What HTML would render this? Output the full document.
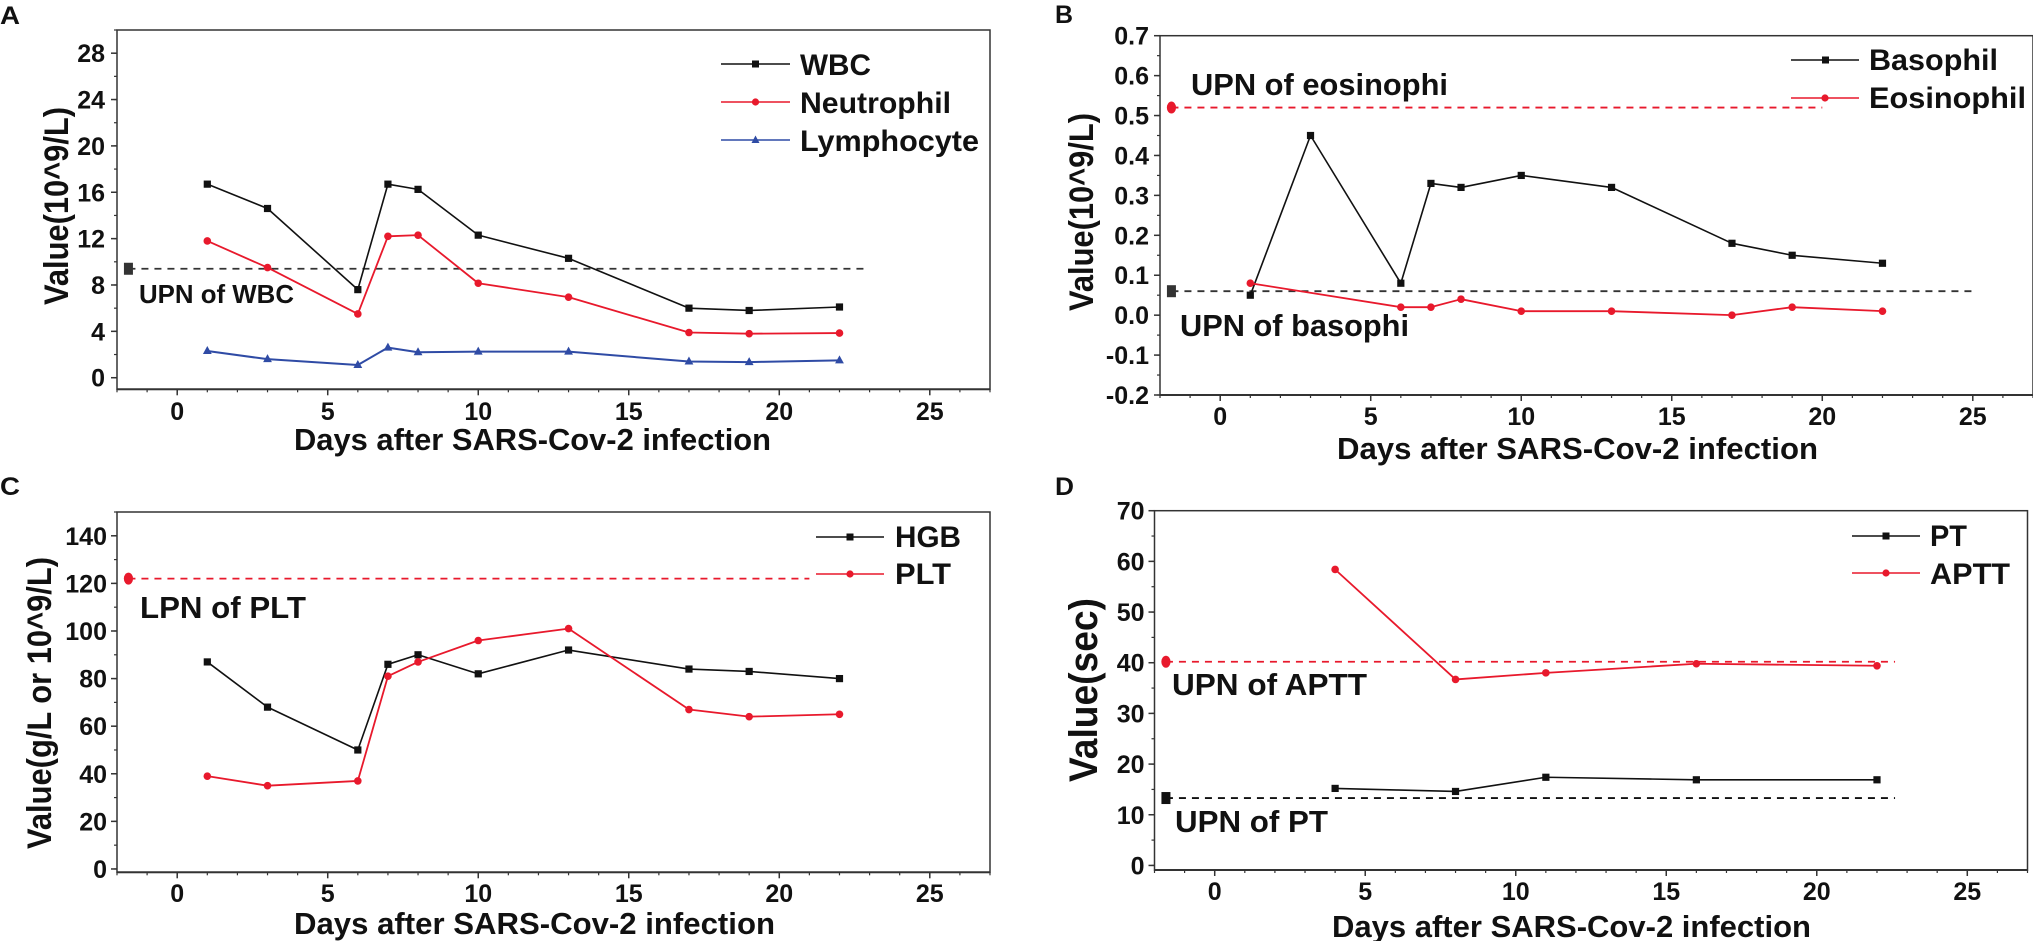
<!DOCTYPE html>
<html lang="en">
<head>
<meta charset="utf-8">
<title>Laboratory values after SARS-Cov-2 infection</title>
<style>
html,body{margin:0;padding:0;background:#fff;}
svg{display:block;filter:blur(0.35px);}
text{font-family:"Liberation Sans",Arial,sans-serif;font-weight:bold;fill:#111;}
.tick{font-size:25px;}
.xtitle{font-size:31px;}
.note{font-size:31px;}
.legend{font-size:30px;}
.letter{font-size:25px;}
</style>
</head>
<body>
<svg id="chart" width="2033" height="941" viewBox="0 0 2033 941" xmlns="http://www.w3.org/2000/svg">
  <rect x="0" y="0" width="2033" height="941" fill="#fff"/>

  <g id="panel-a">
    <text class="letter" x="0" y="24" textLength="20" lengthAdjust="spacingAndGlyphs">A</text>
    <text class="xtitle" x="294" y="450" textLength="477" lengthAdjust="spacingAndGlyphs">Days after SARS-Cov-2 infection</text>
    <text style="font-size:34px" transform="translate(68,305) rotate(-90)" textLength="198" lengthAdjust="spacingAndGlyphs">Value(10^9/L)</text>
    <text class="note" style="font-size:26px" x="139" y="303" textLength="155" lengthAdjust="spacingAndGlyphs">UPN of WBC</text>
    <g>
      <line x1="721" x2="790" y1="64" y2="64" stroke="#111" stroke-width="1.6"/>
      <rect x="752" y="60.5" width="7" height="7" fill="#111"/>
      <text class="legend" x="800" y="75" textLength="71" lengthAdjust="spacingAndGlyphs">WBC</text>
      <line x1="721" x2="790" y1="102" y2="102" stroke="#e8192c" stroke-width="1.6"/>
      <circle cx="755.5" cy="102" r="3.6" fill="#e8192c"/>
      <text class="legend" x="800" y="113" textLength="151" lengthAdjust="spacingAndGlyphs">Neutrophil</text>
      <line x1="721" x2="790" y1="140" y2="140" stroke="#2f4ba5" stroke-width="1.6"/>
      <polygon points="755.5,135.5 759.5,143 751.5,143" fill="#2f4ba5"/>
      <text class="legend" x="800" y="151" textLength="179" lengthAdjust="spacingAndGlyphs">Lymphocyte</text>
    </g>
  </g>

  <g id="panel-b">
    <text class="letter" x="1055" y="23" textLength="18" lengthAdjust="spacingAndGlyphs">B</text>
    <text class="xtitle" x="1337" y="459" textLength="481" lengthAdjust="spacingAndGlyphs">Days after SARS-Cov-2 infection</text>
    <text style="font-size:34px" transform="translate(1093,311) rotate(-90)" textLength="198" lengthAdjust="spacingAndGlyphs">Value(10^9/L)</text>
    <text class="note" x="1191" y="95" textLength="257" lengthAdjust="spacingAndGlyphs">UPN of eosinophi</text>
    <text class="note" x="1180" y="336" textLength="229" lengthAdjust="spacingAndGlyphs">UPN of basophi</text>
    <g>
      <line x1="1791" x2="1859" y1="60" y2="60" stroke="#111" stroke-width="1.6"/>
      <rect x="1822" y="56.5" width="7" height="7" fill="#111"/>
      <text class="legend" x="1869" y="70" textLength="129" lengthAdjust="spacingAndGlyphs">Basophil</text>
      <line x1="1791" x2="1859" y1="98" y2="98" stroke="#e8192c" stroke-width="1.6"/>
      <circle cx="1825" cy="98" r="3.6" fill="#e8192c"/>
      <text class="legend" x="1869" y="108" textLength="157" lengthAdjust="spacingAndGlyphs">Eosinophil</text>
    </g>
  </g>

  <g id="panel-c">
    <text class="letter" x="0" y="495" textLength="20" lengthAdjust="spacingAndGlyphs">C</text>
    <text class="xtitle" x="294" y="934" textLength="481" lengthAdjust="spacingAndGlyphs">Days after SARS-Cov-2 infection</text>
    <text style="font-size:34px" transform="translate(51,849) rotate(-90)" textLength="292" lengthAdjust="spacingAndGlyphs">Value(g/L or 10^9/L)</text>
    <text class="note" x="140" y="618" textLength="166" lengthAdjust="spacingAndGlyphs">LPN of PLT</text>
    <g>
      <line x1="816" x2="884" y1="537" y2="537" stroke="#111" stroke-width="1.6"/>
      <rect x="846.5" y="533.5" width="7" height="7" fill="#111"/>
      <text class="legend" x="895" y="547" textLength="66" lengthAdjust="spacingAndGlyphs">HGB</text>
      <line x1="816" x2="884" y1="574" y2="574" stroke="#e8192c" stroke-width="1.6"/>
      <circle cx="850" cy="574" r="3.6" fill="#e8192c"/>
      <text class="legend" x="895" y="584" textLength="56" lengthAdjust="spacingAndGlyphs">PLT</text>
    </g>
  </g>

  <g id="panel-d">
    <text class="letter" x="1055" y="495" textLength="19" lengthAdjust="spacingAndGlyphs">D</text>
    <text class="xtitle" x="1332" y="937" textLength="479" lengthAdjust="spacingAndGlyphs">Days after SARS-Cov-2 infection</text>
    <text style="font-size:40px" transform="translate(1097,782) rotate(-90)" textLength="184" lengthAdjust="spacingAndGlyphs">Value(sec)</text>
    <text class="note" x="1172" y="695" textLength="195" lengthAdjust="spacingAndGlyphs">UPN of APTT</text>
    <text class="note" x="1175" y="832" textLength="153" lengthAdjust="spacingAndGlyphs">UPN of PT</text>
    <g>
      <line x1="1852" x2="1920" y1="536" y2="536" stroke="#111" stroke-width="1.6"/>
      <rect x="1882.5" y="532.5" width="7" height="7" fill="#111"/>
      <text class="legend" x="1930" y="546" textLength="37" lengthAdjust="spacingAndGlyphs">PT</text>
      <line x1="1852" x2="1920" y1="573" y2="573" stroke="#e8192c" stroke-width="1.6"/>
      <circle cx="1886" cy="573" r="3.6" fill="#e8192c"/>
      <text class="legend" x="1930" y="584" textLength="80" lengthAdjust="spacingAndGlyphs">APTT</text>
    </g>
  </g>
</svg>

<script>
// ---------- shared x axis ----------
var xTickValues = [0, 5, 10, 15, 20, 25];
var xTickLabels = ['0', '5', '10', '15', '20', '25'];

// ---------- panel A ----------
var aDays = [1, 3, 6, 7, 8, 10, 13, 17, 19, 22];
var aWbc = [16.7, 14.6, 7.6, 16.7, 16.25, 12.3, 10.3, 6.0, 5.8, 6.1];
var aNeutrophil = [11.8, 9.5, 5.5, 12.2, 12.3, 8.15, 6.95, 3.9, 3.8, 3.85];
var aLymphocyte = [2.3, 1.6, 1.1, 2.6, 2.2, 2.25, 2.25, 1.4, 1.35, 1.5];
var aWbcLimit = [9.4];
var aWbcLimitEnd = [22.9];
var aYTickValues = [0, 4, 8, 12, 16, 20, 24, 28];
var aYTickLabels = ['0', '4', '8', '12', '16', '20', '24', '28'];

// ---------- panel B ----------
var bDaysBasophil = [1, 3, 6, 7, 8, 10, 13, 17, 19, 22];
var bBasophil = [0.05, 0.45, 0.08, 0.33, 0.32, 0.35, 0.32, 0.18, 0.15, 0.13];
var bDaysEosinophil = [1, 6, 7, 8, 10, 13, 17, 19, 22];
var bEosinophil = [0.08, 0.02, 0.02, 0.04, 0.01, 0.01, 0.0, 0.02, 0.01];
var bBasophilLimit = [0.06];
var bBasophilLimitEnd = [25];
var bEosinophilLimit = [0.52];
var bEosinophilLimitEnd = [20];
var bYTickValues = [-0.2, -0.1, 0, 0.1, 0.2, 0.3, 0.4, 0.5, 0.6, 0.7];
var bYTickLabels = ['-0.2', '-0.1', '0.0', '0.1', '0.2', '0.3', '0.4', '0.5', '0.6', '0.7'];

// ---------- panel C ----------
var cDays = [1, 3, 6, 7, 8, 10, 13, 17, 19, 22];
var cHgb = [87, 68, 50, 86, 90, 82, 92, 84, 83, 80];
var cPlt = [39, 35, 37, 81, 87, 96, 101, 67, 64, 65];
var cPltLimit = [122];
var cPltLimitEnd = [21];
var cYTickValues = [0, 20, 40, 60, 80, 100, 120, 140];
var cYTickLabels = ['0', '20', '40', '60', '80', '100', '120', '140'];

// ---------- panel D ----------
var dDays = [4, 8, 11, 16, 22];
var dPt = [15.2, 14.6, 17.4, 16.9, 16.9];
var dAptt = [58.4, 36.7, 38.0, 39.8, 39.4];
var dPtLimit = [13.3];
var dPtLimitEnd = [22.6];
var dApttLimit = [40.2];
var dApttLimitEnd = [22.6];
var dYTickValues = [0, 10, 20, 30, 40, 50, 60, 70];
var dYTickLabels = ['0', '10', '20', '30', '40', '50', '60', '70'];

var SVG_NS = 'http://www.w3.org/2000/svg';
var INK = '#111';
var AXIS = '#333';
var RED = '#e8192c';
var BLUE = '#2f4ba5';

function shape(tag, attrs, parent) {
  var node = document.createElementNS(SVG_NS, tag);
  for (var key in attrs) { node.setAttribute(key, attrs[key]); }
  parent.appendChild(node);
  return node;
}

function linear(d0, d1, r0, r1) {
  return function (v) { return r0 + (v - d0) * (r1 - r0) / (d1 - d0); };
}

function drawAxes(parent, p) {
  var frame = shape('rect', {x: p.left, y: p.top, width: p.right - p.left, height: p.bottom - p.top, fill: 'none', stroke: AXIS, 'stroke-width': 1.5}, parent);
  
  

  var baseline = shape('line', {x1: p.left, x2: p.right, y1: p.bottom, y2: p.bottom, stroke: AXIS, 'stroke-width': 2}, parent);
  
  

  for (var m = p.xMin; m <= p.xMax; m += 1) {
    var minorX = shape('line', {x1: p.x(m), x2: p.x(m), y1: p.bottom, y2: p.bottom + 3, stroke: AXIS, 'stroke-width': 1.2}, parent);
    
    
  }
  xTickValues.forEach(function (v, i) {
    var tick = shape('line', {x1: p.x(v), x2: p.x(v), y1: p.bottom, y2: p.bottom + 6, stroke: AXIS, 'stroke-width': 1.5}, parent);
    
    
    var label = shape('text', {'class': 'tick', x: p.x(v), y: p.xLabelY, 'text-anchor': 'middle'}, parent);
    label.textContent = xTickLabels[i];
    
    
  });

  for (var n = p.yTicks[0]; n < p.yMax + 1e-9; n += p.yMinorStep) {
    var minorY = shape('line', {x1: p.left - 3, x2: p.left, y1: p.y(n), y2: p.y(n), stroke: AXIS, 'stroke-width': 1.2}, parent);
    
    
  }
  p.yTicks.forEach(function (v, i) {
    var tick = shape('line', {x1: p.left - 6, x2: p.left, y1: p.y(v), y2: p.y(v), stroke: AXIS, 'stroke-width': 1.5}, parent);
    
    
    var label = shape('text', {'class': 'tick', x: p.left - p.labelGap, y: p.y(v) + 9, 'text-anchor': 'end'}, parent);
    label.textContent = p.yLabels[i];
    
    
  });
}

function drawMarker(parent, kind, cx, cy, color, name) {
  var mark;
  if (kind === 'square') {
    mark = shape('rect', {x: cx - 3.6, y: cy - 3.6, width: 7.2, height: 7.2, fill: color}, parent);
  } else if (kind === 'circle') {
    mark = shape('circle', {cx: cx, cy: cy, r: 3.8, fill: color}, parent);
  } else {
    mark = shape('polygon', {points: cx + ',' + (cy - 5) + ' ' + (cx + 4.4) + ',' + (cy + 3) + ' ' + (cx - 4.4) + ',' + (cy + 3), fill: color}, parent);
  }
  
  
}

function drawSeries(parent, p, name, days, values, color, kind, width) {
  var points = days.map(function (d, i) { return p.x(d) + ',' + p.y(values[i]); }).join(' ');
  var line = shape('polyline', {points: points, fill: 'none', stroke: color, 'stroke-width': width, 'stroke-linejoin': 'round'}, parent);
  
  
  days.forEach(function (d, i) {
    drawMarker(parent, kind, p.x(d), p.y(values[i]), color, name + '-point');
  });
}

function drawLimit(parent, p, name, value, endDay, color, kind) {
  var line = shape('line', {x1: p.x(-1.62), x2: p.x(endDay), y1: p.y(value), y2: p.y(value), stroke: color, 'stroke-width': 1.8, 'stroke-dasharray': '7 6'}, parent);
  
  
  var flag;
  if (kind === 'square') {
    flag = shape('rect', {x: p.x(-1.62) - 4.5, y: p.y(value) - 6, width: 9, height: 12, fill: color}, parent);
  } else {
    flag = shape('ellipse', {cx: p.x(-1.62), cy: p.y(value), rx: 4.6, ry: 6, fill: color}, parent);
  }
  
  
}

function buildPanel(id, left, right, top, bottom, yMin, yMax, yTicks, yLabels, yMinorStep, labelGap, xLabelY) {
  return {
    id: id, left: left, right: right, top: top, bottom: bottom,
    xMin: -2, xMax: 27, yMin: yMin, yMax: yMax,
    x: linear(-2, 27, left, right), y: linear(yMin, yMax, bottom, top),
    yTicks: yTicks, yLabels: yLabels, yMinorStep: yMinorStep, labelGap: labelGap, xLabelY: xLabelY
  };
}

var groupA = document.getElementById('panel-a');
var panelA = buildPanel('panel-a', 117, 990, 30, 389.3, -1, 30, aYTickValues, aYTickLabels, 2, 12, 420);
drawAxes(groupA, panelA);
drawLimit(groupA, panelA, 'wbc', aWbcLimit[0], aWbcLimitEnd[0], '#333', 'square');
drawSeries(groupA, panelA, 'wbc', aDays, aWbc, INK, 'square', 1.6);
drawSeries(groupA, panelA, 'neutrophil', aDays, aNeutrophil, RED, 'circle', 1.8);
drawSeries(groupA, panelA, 'lymphocyte', aDays, aLymphocyte, BLUE, 'triangle', 2);

var groupB = document.getElementById('panel-b');
var panelB = buildPanel('panel-b', 1160, 2033, 35.7, 395, -0.2, 0.7, bYTickValues, bYTickLabels, 0.05, 11, 425);
drawAxes(groupB, panelB);
drawLimit(groupB, panelB, 'basophil', bBasophilLimit[0], bBasophilLimitEnd[0], '#333', 'square');
drawLimit(groupB, panelB, 'eosinophil', bEosinophilLimit[0], bEosinophilLimitEnd[0], RED, 'circle');
drawSeries(groupB, panelB, 'basophil', bDaysBasophil, bBasophil, INK, 'square', 1.6);
drawSeries(groupB, panelB, 'eosinophil', bDaysEosinophil, bEosinophil, RED, 'circle', 1.8);

var groupC = document.getElementById('panel-c');
var panelC = buildPanel('panel-c', 117, 990, 512, 872.3, -1.4, 150, cYTickValues, cYTickLabels, 10, 10, 902);
drawAxes(groupC, panelC);
drawLimit(groupC, panelC, 'plt', cPltLimit[0], cPltLimitEnd[0], RED, 'circle');
drawSeries(groupC, panelC, 'hgb', cDays, cHgb, INK, 'square', 1.6);
drawSeries(groupC, panelC, 'plt', cDays, cPlt, RED, 'circle', 1.8);

var groupD = document.getElementById('panel-d');
var panelD = buildPanel('panel-d', 1154.5, 2027.5, 510.7, 870, -0.9, 70, dYTickValues, dYTickLabels, 5, 10, 900);
drawAxes(groupD, panelD);
drawLimit(groupD, panelD, 'pt', dPtLimit[0], dPtLimitEnd[0], INK, 'square');
drawLimit(groupD, panelD, 'aptt', dApttLimit[0], dApttLimitEnd[0], RED, 'circle');
drawSeries(groupD, panelD, 'pt', dDays, dPt, INK, 'square', 1.6);
drawSeries(groupD, panelD, 'aptt', dDays, dAptt, RED, 'circle', 1.8);
</script>
</body>
</html>
